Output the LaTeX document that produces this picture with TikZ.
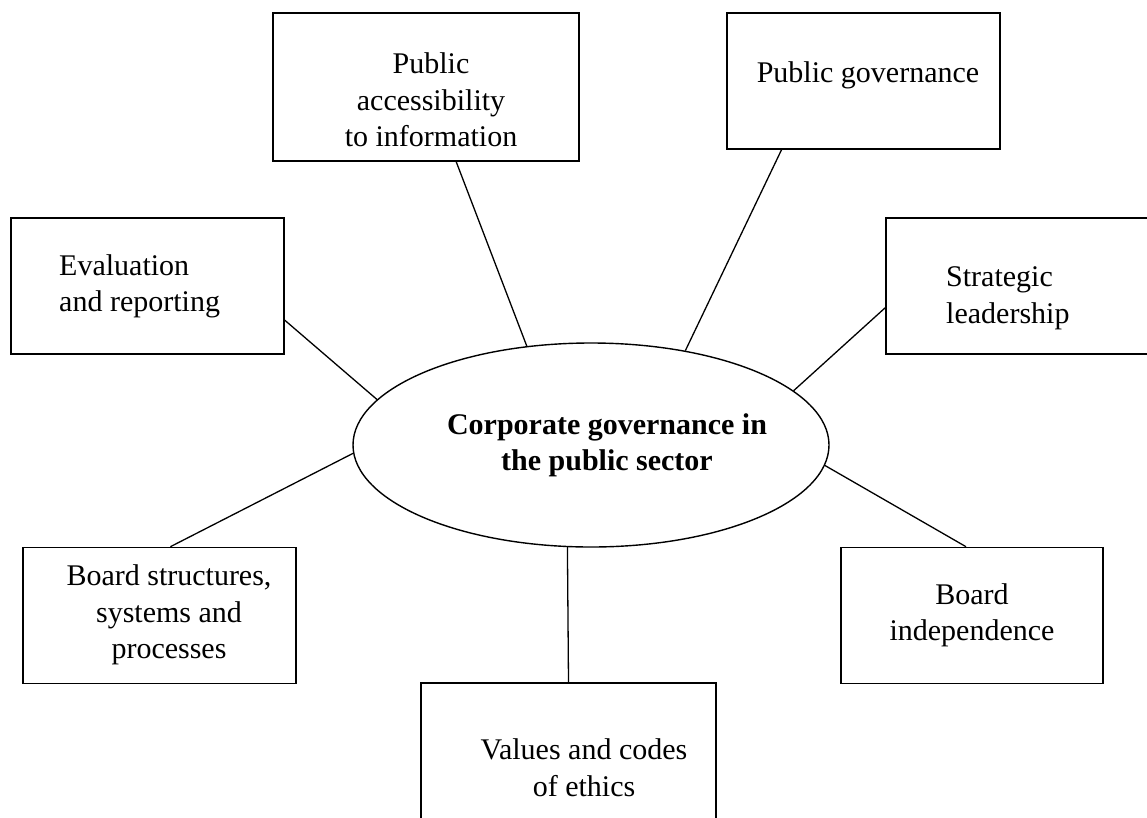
\documentclass[tikz,border=0pt]{standalone}
\usepackage{fontspec}
\setmainfont{Liberation Serif}
\usetikzlibrary{shapes.geometric}

\tikzset{
    box/.style={draw, line width=1.6pt, minimum width=273, minimum height=136, inner sep=0pt},
    hub/.style={draw, ellipse, line width=1.4pt, minimum width=476, minimum height=204, inner sep=0pt},
    lbl/.style={inner sep=0pt, font=\fontsize{30}{36.5}\selectfont},
    link/.style={line width=1.3pt}
}

\begin{document}
\begin{tikzpicture}[x=1pt, y=-1pt]
    \useasboundingbox (0,0) rectangle (1147,817);
    % frames
    \node[box, minimum width=306, minimum height=148] (acc) at (426,87) {};
    \node[box] (gov) at (863.5,81) {};
    \node[box] (eval) at (147.5,286) {};
    \node[box] (strat) at (1022.5,286) {};
    \node[hub] (core) at (591,445) {};
    \node[box] (struct) at (159.5,615.5) {};
    \node[box, minimum width=262] (indep) at (972,615.5) {};
    \node[box, minimum width=295, minimum height=140] (ethics) at (568.5,753) {};
    % texts
    \node[lbl, align=center] (accT) at (431,100) {Public\\accessibility\\to information};
    \node[lbl] (govT) at (868,75) {Public governance};
    \node[lbl, align=left, anchor=west] (evalT) at (59,286.5) {Evaluation\\and reporting};
    \node[lbl, align=left, anchor=west] (stratT) at (946,298.5) {Strategic\\leadership};
    \node[lbl, align=center, font=\fontsize{30}{36}\selectfont\bfseries] (coreT) at (607,445) {Corporate governance in\\the public sector};
    \node[lbl, align=center] (structT) at (169,615) {Board structures,\\systems and\\processes};
    \node[lbl, align=center] (indepT) at (972,615.5) {Board\\independence};
    \node[lbl, align=center] (ethicsT) at (584,767.5) {Values and codes\\of ethics};
    % spokes
    \draw[link] (acc.-68.6) -- (core.123.7);
    \draw[link] (gov.220.2) -- (core.45);
    \draw[link] (eval.-14.4) -- (core.168.2);
    \draw[link] (strat.189.6) -- (core.15.6);
    \draw[link] (struct.81.3) -- (core.182.9);
    \draw[link] (indep.95) -- (core.-5.5);
    \draw[link] (ethics.north) -- (core.257.3);
\end{tikzpicture}
\end{document}
